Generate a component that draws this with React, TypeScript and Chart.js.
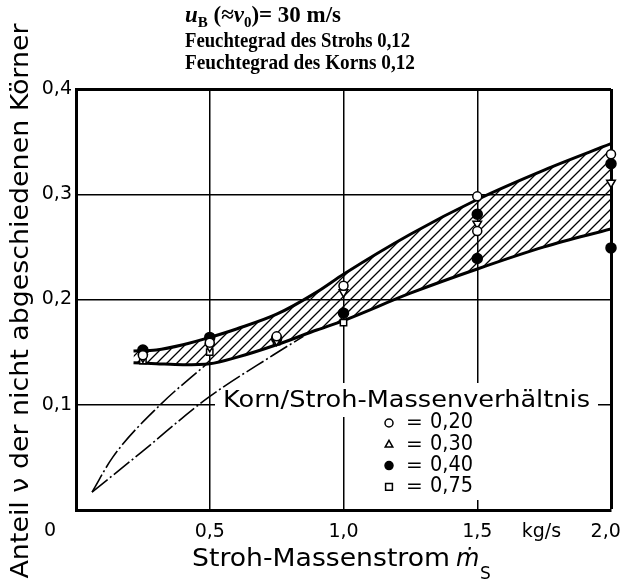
import { useEffect, useRef } from 'react';
import { Chart, registerables } from 'chart.js';

Chart.register(...registerables);

// ---- tick labels ----
const xTicks = [0.5, 1.0, 1.5, 1.74, 1.98, 2.0];
const xTickLabels = ['0,5', '1,0', '1,5', 'kg/s', '2,0', ''];
const yTicks = [0.1, 0.2, 0.3, 0.4];
const yTickLabels = ['0,1', '0,2', '0,3', '0,4'];

// ---- hatched band (upper / lower boundary) ----
const bandX = [0.215, 0.3, 0.4, 0.5, 0.6, 0.75, 0.9, 1.0, 1.25, 1.5, 1.75, 2.0];
const bandUpper = [0.151, 0.152, 0.157, 0.164, 0.172, 0.186, 0.207, 0.224, 0.262, 0.295, 0.323, 0.348];
const bandLower = [0.14, 0.139, 0.138, 0.139, 0.145, 0.157, 0.171, 0.18, 0.206, 0.229, 0.25, 0.267];

// ---- thin dash-dot extrapolation curves ----
const curveAX = [0.06, 0.137, 0.313, 0.49];
const curveAY = [0.017, 0.05, 0.0995, 0.139];
const curveBX = [0.06, 0.245, 0.49, 0.736, 0.85];
const curveBY = [0.017, 0.055, 0.106, 0.147, 0.165];

// ---- measured points, Korn/Stroh-Massenverhältnis ----
const r020X = [0.25, 0.5, 0.75, 1.0, 1.5, 1.5, 2.0];
const r020Y = [0.147, 0.159, 0.165, 0.213, 0.298, 0.265, 0.338];
const r030X = [0.25, 0.5, 0.75, 1.0, 1.5, 2.0];
const r030Y = [0.145, 0.155, 0.161, 0.207, 0.272, 0.311];
const r040X = [0.25, 0.5, 0.75, 1.0, 1.5, 1.5, 2.0, 2.0];
const r040Y = [0.152, 0.164, 0.163, 0.187, 0.281, 0.239, 0.329, 0.249];
const r075X = [0.25, 0.5, 0.75, 1.0];
const r075Y = [0.142, 0.15, 0.16, 0.178];

const legendSymbols = ['circle', 'triangle', 'filled', 'rect'];
const legendLabels = ['0,20', '0,30', '0,40', '0,75'];

const titleLine2 = 'Feuchtegrad des Strohs 0,12';
const titleLine3 = 'Feuchtegrad des Korns 0,12';
const yTitle = 'Anteil ν der nicht abgeschiedenen Körner';
const xTitle = 'Stroh-Massenstrom';
const legendTitle = 'Korn/Stroh-Massenverhältnis';

const SANS = '"DejaVu Sans", sans-serif';
const SERIF = '"Liberation Serif", serif';

const pts = (xs: number[], ys: number[]) => xs.map((x, i) => ({ x, y: ys[i] }));

function makeHatch(): CanvasPattern | string {
  const c = document.createElement('canvas');
  const s = 10;
  c.width = s;
  c.height = s;
  const g = c.getContext('2d');
  if (!g) return 'rgba(0,0,0,0.2)';
  g.strokeStyle = '#000';
  g.lineWidth = 1.3;
  g.beginPath();
  g.moveTo(-2, s + 2);
  g.lineTo(s + 2, -2);
  g.moveTo(-2, 2);
  g.lineTo(2, -2);
  g.moveTo(s - 2, s + 2);
  g.lineTo(s + 2, s - 2);
  g.stroke();
  return g.createPattern(c, 'repeat') || 'rgba(0,0,0,0.2)';
}

function fitText(ctx: CanvasRenderingContext2D, text: string, x: number, y: number, width: number, font: string, align: CanvasTextAlign = 'left') {
  ctx.save();
  ctx.font = font;
  const w = ctx.measureText(text).width;
  ctx.translate(x, y);
  ctx.scale(width / w, 1);
  ctx.textAlign = align;
  ctx.fillText(text, 0, 0);
  ctx.restore();
}

function drawSymbol(ctx: CanvasRenderingContext2D, kind: string, x: number, y: number, r: number) {
  ctx.save();
  ctx.lineWidth = 1.5;
  ctx.strokeStyle = '#000';
  ctx.fillStyle = '#fff';
  ctx.beginPath();
  if (kind === 'circle' || kind === 'filled') {
    ctx.arc(x, y, r, 0, Math.PI * 2);
    if (kind === 'filled') ctx.fillStyle = '#000';
  } else if (kind === 'triangle') {
    ctx.moveTo(x, y - r);
    ctx.lineTo(x + r * 0.95, y + r * 0.7);
    ctx.lineTo(x - r * 0.95, y + r * 0.7);
    ctx.closePath();
  } else {
    ctx.rect(x - r * 0.85, y - r * 0.85, r * 1.7, r * 1.7);
  }
  ctx.fill();
  ctx.stroke();
  ctx.restore();
}

const overlayPlugin = {
  id: 'overlay',
  beforeDatasetsDraw(chart: any) {
    const ctx: CanvasRenderingContext2D = chart.ctx;
    ctx.save();
    ctx.fillStyle = '#fff';
    ctx.fillRect(215, 383, 383, 34);
    ctx.fillRect(380, 383, 102, 117);
    ctx.restore();
  },
  afterDraw(chart: any) {
    const ctx: CanvasRenderingContext2D = chart.ctx;
    const xs = chart.scales.x;
    const ys = chart.scales.y;
    ctx.save();
    ctx.fillStyle = '#000';
    ctx.textBaseline = 'alphabetic';

    // --- title block (serif) ---
    const pieces: [string, string, number][] = [
      ['u', `italic bold 23px ${SERIF}`, 0],
      ['B', `bold 15px ${SERIF}`, 5],
      [' (≈', `bold 23px ${SERIF}`, 0],
      ['v', `italic bold 23px ${SERIF}`, 0],
      ['0', `bold 15px ${SERIF}`, 5],
      [')= 30 m/s', `bold 23px ${SERIF}`, 0],
    ];
    let total = 0;
    pieces.forEach(([t, f]) => {
      ctx.font = f;
      total += ctx.measureText(t).width;
    });
    ctx.save();
    ctx.translate(185, 0);
    ctx.scale(156 / total, 1);
    let cx = 0;
    pieces.forEach(([t, f, dy]) => {
      ctx.font = f;
      ctx.fillText(t, cx, 22 + dy);
      cx += ctx.measureText(t).width;
    });
    ctx.restore();
    fitText(ctx, titleLine2, 185, 47, 225, `bold 22px ${SERIF}`, 'left');
    fitText(ctx, titleLine3, 185, 69, 230, `bold 22px ${SERIF}`, 'left');

    // --- y axis title ---
    ctx.save();
    ctx.translate(28, 301);
    ctx.rotate(-Math.PI / 2);
    fitText(ctx, yTitle, 0, 0, 555, `24px ${SANS}`, 'center');
    ctx.restore();

    // --- x axis title ---
    fitText(ctx, xTitle, 192, 566, 258, `24px ${SANS}`, 'left');
    ctx.font = `italic 24px ${SANS}`;
    ctx.fillText('ṁ', 456, 566);
    ctx.font = `17px ${SANS}`;
    ctx.fillText('S', 480, 579);

    // --- origin label ---
    ctx.font = `19px ${SANS}`;
    ctx.textAlign = 'center';
    ctx.textBaseline = 'middle';
    ctx.fillText('0', xs.getPixelForValue(0) - 26, ys.getPixelForValue(0) + 21);

    // --- legend ---
    ctx.textBaseline = 'middle';
    fitText(ctx, legendTitle, 223, 401, 367, `23px ${SANS}`, 'left');
    legendLabels.forEach((lab, i) => {
      const yy = 423 + i * 21.3;
      drawSymbol(ctx, legendSymbols[i], 389, yy, 4);
      ctx.font = `20px ${SANS}`;
      ctx.textAlign = 'left';
      ctx.fillText('=', 406, yy);
      fitText(ctx, lab, 430, yy, 43, `21px ${SANS}`, 'left');
    });
    ctx.restore();
  },
};

export default function App() {
  const ref = useRef<HTMLCanvasElement | null>(null);

  useEffect(() => {
    document.body.style.margin = '0';
    const canvas = ref.current;
    if (!canvas) return;
    const hatch = makeHatch();
    const markerBase = {
      type: 'scatter' as const,
      pointBorderColor: '#000',
      pointBorderWidth: 1.5,
      pointBackgroundColor: '#fff',
      showLine: false,
      clip: false as const,
    };
    const dashDot = {
      type: 'line' as const,
      borderColor: '#000',
      borderWidth: 1.6,
      borderDash: [20, 3, 2, 3],
      pointRadius: 0,
      cubicInterpolationMode: 'monotone' as const,
      fill: false,
    };
    const chart = new Chart(canvas, {
      type: 'scatter',
      data: {
        datasets: [
          { ...markerBase, label: '0,20', data: pts(r020X, r020Y), pointStyle: 'circle', pointRadius: 4.5 },
          { ...markerBase, label: '0,30', data: pts(r030X, r030Y), pointStyle: 'triangle', pointRotation: 180, pointRadius: 5 },
          { ...markerBase, label: '0,40', data: pts(r040X, r040Y), pointStyle: 'circle', pointRadius: 5, pointBackgroundColor: '#000' },
          { ...markerBase, label: '0,75', data: pts(r075X, r075Y), pointStyle: 'rect', pointRadius: 4.5 },
          {
            type: 'line',
            label: 'upper',
            data: pts(bandX, bandUpper),
            borderColor: '#000',
            borderWidth: 3,
            pointRadius: 0,
            cubicInterpolationMode: 'monotone',
            fill: { target: 5 },
            backgroundColor: hatch as any,
          },
          {
            type: 'line',
            label: 'lower',
            data: pts(bandX, bandLower),
            borderColor: '#000',
            borderWidth: 3,
            pointRadius: 0,
            cubicInterpolationMode: 'monotone',
            fill: false,
          },
          { ...dashDot, label: 'A', data: pts(curveAX, curveAY) },
          { ...dashDot, label: 'B', data: pts(curveBX, curveBY) },
        ] as any,
      },
      options: {
        responsive: false,
        animation: false,
        layout: { padding: { top: 89, right: 11, bottom: 0, left: 0 } },
        plugins: { legend: { display: false }, tooltip: { enabled: false } },
        scales: {
          x: {
            type: 'linear',
            min: 0,
            max: 2,
            afterBuildTicks: (s: any) => {
              s.ticks = xTicks.map((v) => ({ value: v }));
            },
            afterFit: (s: any) => {
              s.height = 70;
              s.paddingLeft = 0;
              s.paddingRight = 0;
            },
            ticks: {
              autoSkip: false,
              maxRotation: 0,
              padding: 11,
              color: '#000',
              font: { family: 'DejaVu Sans', size: 19 },
              callback: (v: any) => xTickLabels[xTicks.indexOf(Number(v))] ?? '',
            },
            grid: {
              drawTicks: false,
              color: (c: any) => (c.tick && (c.tick.value === 1.74 || c.tick.value === 1.98) ? 'rgba(0,0,0,0)' : '#000'),
              lineWidth: (c: any) => (c.tick && c.tick.value === 2 ? 3 : 1.5),
            },
            border: { display: true, color: '#000', width: 3 },
          },
          y: {
            type: 'linear',
            min: 0,
            max: 0.4,
            afterBuildTicks: (s: any) => {
              s.ticks = yTicks.map((v) => ({ value: v }));
            },
            afterFit: (s: any) => {
              s.width = 76;
              s.paddingTop = 0;
              s.paddingBottom = 0;
            },
            ticks: {
              padding: 4,
              color: '#000',
              font: { family: 'DejaVu Sans', size: 19 },
              callback: (v: any) => yTickLabels[yTicks.indexOf(Number(v))] ?? '',
            },
            grid: {
              drawTicks: false,
              color: '#000',
              lineWidth: (c: any) => (c.tick && c.tick.value === 0.4 ? 3 : 1.5),
            },
            border: { display: true, color: '#000', width: 3 },
          },
        },
      },
      plugins: [overlayPlugin],
    });
    return () => chart.destroy();
  }, []);

  return (
    <div style={{ width: 622, height: 580, background: '#fff' }}>
      <canvas ref={ref} width={622} height={580} style={{ display: 'block' }} />
    </div>
  );
}
